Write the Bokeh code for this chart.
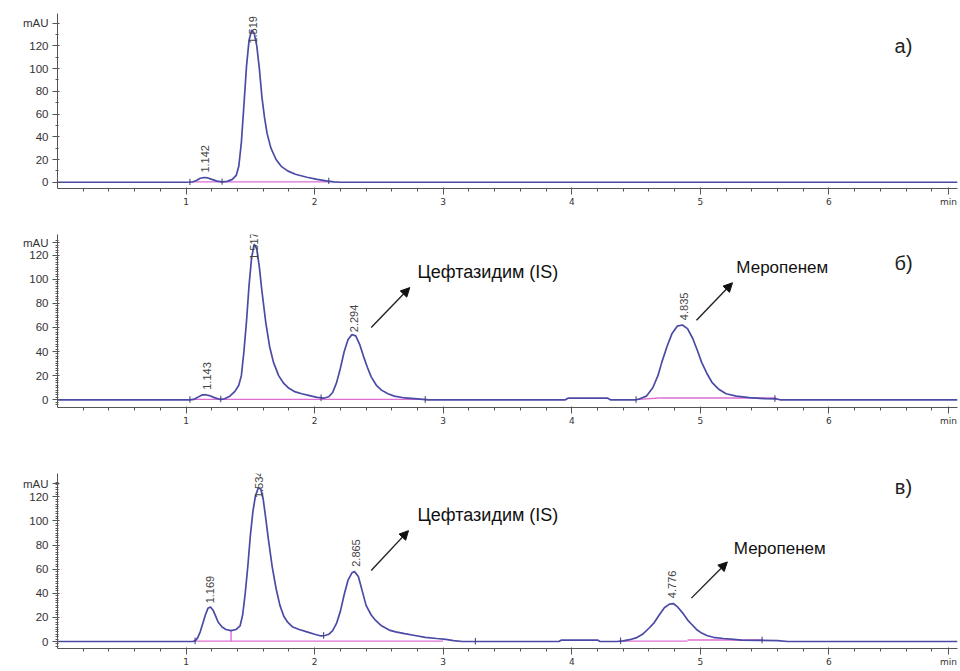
from bokeh.plotting import figure
from bokeh.layouts import column
from bokeh.models import (ColumnDataSource, LabelSet, Label, Arrow, NormalHead,
                          FixedTicker, Range1d)
from bokeh.core.properties import value
from bokeh.embed import file_html
from bokeh.resources import INLINE
import math

# ---------------- data ----------------
# panel а)
time_a = [0.0, 1.00, 1.05, 1.08, 1.11, 1.14, 1.17, 1.20, 1.24, 1.28, 1.32, 1.36, 1.39,
          1.41, 1.43, 1.45, 1.47, 1.49, 1.51, 1.53, 1.55, 1.57, 1.59, 1.61, 1.63, 1.66,
          1.70, 1.74, 1.79, 1.85, 1.94, 2.02, 2.10, 2.15, 2.20, 7.0]
signal_a = [0, 0, 0.2, 1.5, 3.5, 4.2, 3.8, 2.5, 1.0, 0.3, 0.8, 2.5, 6,
            14, 35, 68, 102, 125, 134, 131, 120, 100, 75, 57, 43, 30,
            20, 14, 10, 7, 4.4, 2.5, 1.0, 0.3, 0, 0]

# panel б)
time_b = [0.0, 1.03, 1.06, 1.09, 1.12, 1.15, 1.18, 1.22, 1.26, 1.30, 1.34, 1.38, 1.41,
          1.43, 1.45, 1.47, 1.49, 1.51, 1.53, 1.55, 1.57, 1.59, 1.62, 1.65, 1.68, 1.72,
          1.76, 1.80, 1.85, 1.90, 1.96, 2.02, 2.07, 2.11, 2.14, 2.17, 2.20, 2.23, 2.26,
          2.29, 2.32, 2.35, 2.38, 2.41, 2.44, 2.48, 2.52, 2.57, 2.62, 2.70, 2.80, 2.88,
          3.95, 3.97, 4.28, 4.30, 4.50, 4.52, 4.58, 4.63, 4.67, 4.70, 4.74, 4.78, 4.82,
          4.86, 4.90, 4.94, 4.98, 5.01, 5.05, 5.09, 5.14, 5.20, 5.28, 5.38, 5.50, 5.59,
          5.62, 7.0]
signal_b = [0, 0, 0.3, 2, 3.8, 4.2, 3.5, 1.8, 0.4, 0.8, 3, 7, 12,
            20, 40, 65, 95, 118, 129, 125, 110, 90, 64, 44, 31, 20,
            13.5, 9.5, 6.5, 5, 3.5, 2, 1.3, 2.5, 6, 14, 26, 40, 50,
            54, 53, 46, 36, 27, 19, 12, 8, 5, 3, 1.5, 0.7, 0,
            0, 1.3, 1.3, 0, 0, 0.5, 3, 10, 20, 31, 44, 55, 61,
            62, 59, 51, 40, 31, 22, 14.5, 9, 5, 3, 1.8, 1.0, 0.8,
            0, 0]

# panel в)
time_c = [0.0, 1.05, 1.07, 1.09, 1.11, 1.13, 1.15, 1.17, 1.19, 1.21, 1.23, 1.25, 1.28,
          1.31, 1.35, 1.39, 1.42, 1.44, 1.46, 1.48, 1.50, 1.52, 1.54, 1.56, 1.58, 1.60,
          1.62, 1.64, 1.67, 1.70, 1.73, 1.76, 1.79, 1.83, 1.88, 1.94, 2.00, 2.05, 2.08,
          2.11, 2.14, 2.17, 2.20, 2.23, 2.26, 2.29, 2.31, 2.34, 2.37, 2.40, 2.44, 2.47,
          2.52, 2.58, 2.63, 2.70, 2.78, 2.86, 2.95, 3.02, 3.08, 3.15, 3.90, 3.92, 4.20,
          4.22, 4.35, 4.40, 4.45, 4.50, 4.55, 4.60, 4.64, 4.68, 4.72, 4.76, 4.79, 4.82,
          4.86, 4.90, 4.93, 4.97, 5.01, 5.05, 5.10, 5.18, 5.26, 5.32, 5.45, 5.60, 5.68,
          7.0]
signal_c = [0, 0, 0.5, 3, 8, 15, 22, 27.5, 28.7, 26, 21, 16, 12,
            10, 9, 10, 13, 22, 40, 62, 88, 108, 121, 127, 127, 118,
            102, 85, 62, 44, 30, 21, 16, 12, 10, 8, 6, 4.6, 5,
            6, 9, 15, 25, 39, 51, 57, 58, 54, 42, 30, 22, 18,
            13, 9.5, 8, 6.5, 5, 3.5, 2.5, 1.8, 0.8, 0, 0, 1.2, 1.2,
            0, 0, 0.5, 1.5, 3, 6, 11, 15.5, 22, 28, 31, 31.5, 29,
            24, 18, 14.5, 10, 7, 5, 3.5, 2.5, 1.8, 1.2, 1.0, 0.8, 0,
            0]

# peak retention-time labels
peak_text_a = ["1.142", "1.519"]
peak_x_a = [1.15, 1.52]
peak_y_a = [8.5, 122]
peak_text_b = ["1.143", "1.517", "2.294", "4.835"]
peak_x_b = [1.16, 1.53, 2.31, 4.87]
peak_y_b = [8.3, 116, 56, 66]
peak_text_c = ["1.169", "1.534", "2.865", "4.776"]
peak_x_c = [1.19, 1.57, 2.32, 4.78]
peak_y_c = [31.7, 119, 62, 36]

# integration baselines (pink)
base_x0_a, base_x1_a, base_y0_a, base_y1_a = [1.03], [2.12], [0.3], [0.3]
base_x0_b = [1.04, 4.52, 4.68]
base_x1_b = [2.88, 4.68, 5.59]
base_y0_b = [0.3, 0.3, 1.5]
base_y1_b = [0.3, 1.5, 1.5]
base_x0_c = [1.06, 4.37, 4.90, 1.35]
base_x1_c = [3.00, 4.90, 5.49, 1.35]
base_y0_c = [0.3, 0.3, 1.2, 0.3]
base_y1_c = [0.3, 0.3, 1.2, 9.0]

# peak start/end markers
mark_x_a, mark_y_a = [1.03, 1.28, 2.11], [0.0, 0.3, 1.0]
mark_x_b, mark_y_b = [1.03, 1.27, 2.05, 2.86, 4.50, 5.58], [0.0, 0.4, 1.4, 0.0, 0.0, 0.8]
mark_x_c, mark_y_c = [1.07, 2.07, 3.25, 4.38, 5.48], [0.3, 4.8, 0.0, 0.3, 1.0]

# compound annotations
cmp_names = ["Цефтазидим (IS)", "Меропенем"]
cmp_sizes = ["18px", "17px"]
cmp_x_b, cmp_y_b = [2.80, 5.28], [106, 110]
cmp_x_c, cmp_y_c = [2.80, 5.26], [105, 77]
arrow_b = [(2.44, 60, 2.74, 93), (4.97, 66, 5.25, 97)]
arrow_c = [(2.44, 59, 2.73, 92), (4.93, 36, 5.21, 66)]

panel_letters = ["а)", "б)", "в)"]
y_ticks = [0, 20, 40, 60, 80, 100, 120]
x_ticks = [1, 2, 3, 4, 5, 6]
x_unit_pos = 6.93
x_unit = "min"

TRACE = "#4b4ba6"
BASE = "#dd6fd4"
AXIS = "#555555"
FONT = "Liberation Sans"


def make_panel(t, s, y_lo, y_hi, height, b_top, b_bottom, minor_step, mau_y,
               pk_txt, pk_x, pk_y, bx0, bx1, by0, by1, mx, my,
               letter, letter_y, cmp_x=None, cmp_y=None, arrows=None):
    p = figure(width=960, height=height, output_backend="svg", toolbar_location=None,
               x_range=Range1d(0, 7.0), y_range=Range1d(y_lo, y_hi),
               min_border_left=57, min_border_right=3,
               min_border_top=b_top, min_border_bottom=b_bottom)
    p.outline_line_color = None
    p.grid.visible = False
    p.background_fill_color = "white"

    # y axis
    yax = p.yaxis[0]
    minor = [k * minor_step for k in range(-2, int(mau_y / minor_step) + 2)]
    yax.ticker = FixedTicker(ticks=y_ticks + [mau_y], minor_ticks=minor)
    yax.major_label_overrides = {mau_y: "mAU"}
    yax.axis_line_color = AXIS
    yax.major_tick_line_color = AXIS
    yax.minor_tick_line_color = AXIS
    yax.major_tick_out = 5
    yax.major_tick_in = 2
    yax.minor_tick_out = 2
    yax.minor_tick_in = 1
    yax.major_label_standoff = 4
    yax.major_label_text_font = FONT
    yax.major_label_text_font_size = "11.5px"
    yax.major_label_text_color = "#333333"

    # x axis
    xax = p.xaxis[0]
    xax.ticker = FixedTicker(ticks=x_ticks + [x_unit_pos],
                             minor_ticks=[round(0.2 * k, 1) for k in range(1, 35)])
    xax.major_label_overrides = {x_unit_pos: x_unit}
    xax.axis_line_color = AXIS
    xax.major_tick_line_color = AXIS
    xax.minor_tick_line_color = AXIS
    xax.major_tick_out = 6
    xax.major_tick_in = 1
    xax.minor_tick_out = 3
    xax.minor_tick_in = 0
    xax.major_label_standoff = 2
    xax.major_label_text_font = "DejaVu Sans"
    xax.major_label_text_font_size = "9px"
    xax.major_label_text_color = "#333333"

    # integration baselines
    p.segment(x0=bx0, y0=by0, x1=bx1, y1=by1, line_color=BASE, line_width=1.4)
    # trace
    p.line(t, s, line_color=TRACE, line_width=1.7)
    # peak markers
    p.segment(x0=mx, y0=[v - 2.5 for v in my], x1=mx, y1=[v + 3.0 for v in my],
              line_color="#3a3a7a", line_width=1)

    src = ColumnDataSource(dict(x=pk_x, y=pk_y, text=pk_txt))
    p.add_layout(LabelSet(x="x", y="y", text="text", source=src, angle=math.pi / 2,
                          text_font=value(FONT), text_font_size=value("11px"),
                          text_color="#444444",
                          text_align="left", text_baseline="middle"))

    p.add_layout(Label(x=6.58, y=letter_y, text=letter, text_font=FONT,
                       text_font_size="20px", text_color="#222222",
                       text_align="center", text_baseline="middle"))

    if cmp_x is not None:
        for name, size, cx, cy in zip(cmp_names, cmp_sizes, cmp_x, cmp_y):
            p.add_layout(Label(x=cx, y=cy, text=name, text_font=FONT,
                               text_font_size=size, text_color="#111111",
                               text_align="left", text_baseline="middle"))
        for (x0, y0, x1, y1) in arrows:
            p.add_layout(Arrow(end=NormalHead(size=9, fill_color="#111111",
                                              line_color="#111111"),
                               x_start=x0, y_start=y0, x_end=x1, y_end=y1,
                               line_color="#222222", line_width=1.4))
    return p


pa = make_panel(time_a, signal_a, -5.5, 148.5, 218, 13, 30, 10, 140,
                peak_text_a, peak_x_a, peak_y_a,
                base_x0_a, base_x1_a, base_y0_a, base_y1_a, mark_x_a, mark_y_a,
                panel_letters[0], 120)
pb = make_panel(time_b, signal_b, -6.4, 137, 219, 16, 30, 2, 130,
                peak_text_b, peak_x_b, peak_y_b,
                base_x0_b, base_x1_b, base_y0_b, base_y1_b, mark_x_b, mark_y_b,
                panel_letters[1], 113, cmp_x_b, cmp_y_b, arrow_b)
pc = make_panel(time_c, signal_c, -5.8, 139.4, 234, 36, 23, 2, 131,
                peak_text_c, peak_x_c, peak_y_c,
                base_x0_c, base_x1_c, base_y0_c, base_y1_c, mark_x_c, mark_y_c,
                panel_letters[2], 128, cmp_x_c, cmp_y_c, arrow_c)

layout = column(pa, pb, pc, spacing=0)
open("out.html", "w").write(file_html(layout, INLINE))
